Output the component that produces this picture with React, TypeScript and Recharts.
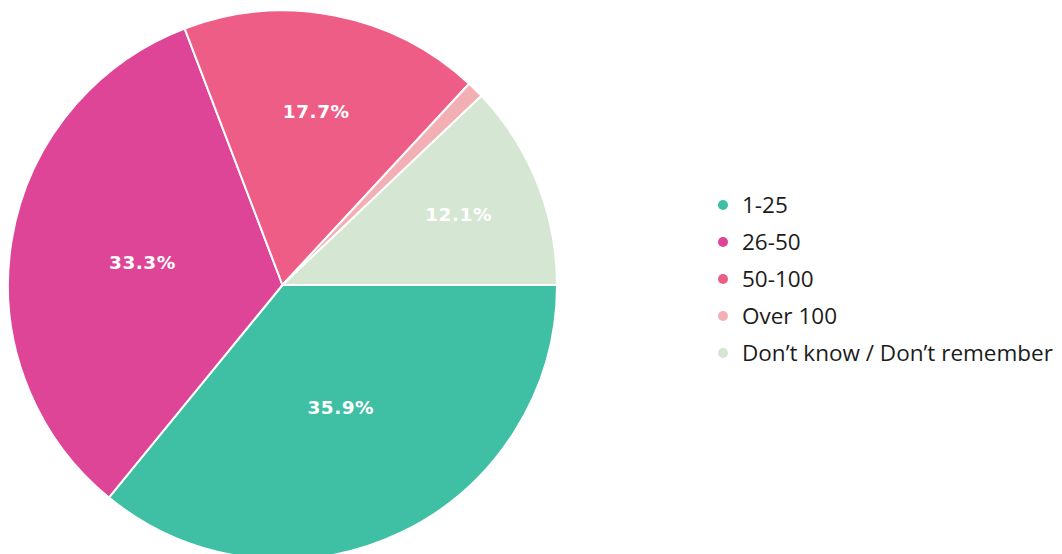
import React from 'react'
import { PieChart, Pie, Cell, Legend } from 'recharts'

const categories = ['1-25', '26-50', '50-100', 'Over 100', 'Don\u2019t know / Don\u2019t remember']
const shares = [35.9, 33.3, 17.7, 1.0, 12.1]
const colors = ['#3fbfa3', '#de4597', '#ee5d86', '#f3b0b4', '#d5e6d3']

const data = categories.map((name, i) => ({ name, value: shares[i] }))

const RAD = Math.PI / 180

function renderLabel(props: any) {
  const { cx, cy, midAngle, outerRadius, value } = props
  if (value < 5) return null
  // bigger slices keep their label closer to the centre
  const r = outerRadius * (0.79 - 0.0082 * value)
  const x = cx + r * Math.cos(-midAngle * RAD)
  const y = cy + r * Math.sin(-midAngle * RAD)
  return (
    <text
      x={x}
      y={y}
      fill="#ffffff"
      textAnchor="middle"
      dominantBaseline="central"
      fontFamily="'DejaVu Sans', sans-serif"
      fontWeight={700}
      fontSize={18.5}
      letterSpacing={0.5}
    >
      {`${value}%`}
    </text>
  )
}

function renderLegend() {
  return (
    <ul style={{ listStyle: 'none', margin: 0, padding: 0 }}>
      {categories.map((name, i) => (
        <li
          key={name}
          style={{
            display: 'flex',
            alignItems: 'center',
            height: 37,
            fontFamily: "'Open Sans', sans-serif",
            fontSize: 22.5,
            color: '#1c1c1c',
            whiteSpace: 'nowrap',
          }}
        >
          <span
            style={{
              display: 'inline-block',
              width: 10,
              height: 10,
              borderRadius: '50%',
              background: colors[i],
              marginRight: 14,
            }}
          />
          {name}
        </li>
      ))}
    </ul>
  )
}

export default function App() {
  return (
    <div style={{ position: 'absolute', left: 0, top: 0, width: 1062, height: 554, background: '#fff' }}>
      <PieChart width={1062} height={554} margin={{ top: 0, right: 0, bottom: 0, left: 0 }}>
        <Pie
          data={data}
          dataKey="value"
          nameKey="name"
          cx={282.5}
          cy={285}
          outerRadius={274.5}
          startAngle={0}
          endAngle={-360}
          stroke="#ffffff"
          strokeWidth={2}
          label={renderLabel}
          labelLine={false}
          isAnimationActive={false}
        >
          {data.map((d, i) => (
            <Cell key={d.name} fill={colors[i]} />
          ))}
        </Pie>
        <Legend
          content={renderLegend}
          wrapperStyle={{ position: 'absolute', left: 718, top: 186, width: 344 }}
        />
      </PieChart>
    </div>
  )
}
